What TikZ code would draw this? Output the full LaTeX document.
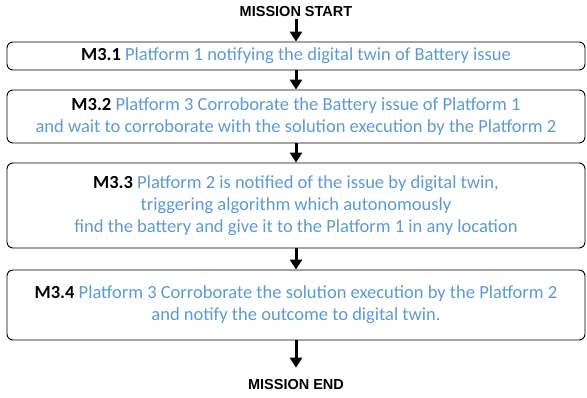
\documentclass[tikz,border=0pt]{standalone}
\usepackage{fontspec}
\setmainfont{Carlito}
\newfontfamily\headfont{Liberation Sans}
\usetikzlibrary{arrows.meta}
\definecolor{txtblue}{HTML}{5B9BD5}
\begin{document}
\begin{tikzpicture}[x=1pt,y=-1pt,
  stepbox/.style={draw=black,line width=0.9pt,rounded corners=6pt,minimum width=578pt,
    align=center,inner sep=0pt,font=\fontsize{18.5}{22}\selectfont,text=txtblue},
  head/.style={font=\headfont\bfseries\fontsize{14.5}{15}\selectfont,inner sep=0pt},
  arr/.style={line width=3pt,-{Triangle[width=12pt,length=10pt]}}]
\useasboundingbox (0,0) rectangle (587,397);
\node[head] (start) at (296,12) {MISSION START};
\node[stepbox,minimum height=28pt] (b1) at (296,56)
  {\textcolor{black}{\textbf{M3.1}} Platform 1 notifying the digital twin of Battery issue};
\node[stepbox,minimum height=53pt] (b2) at (296,116.5)
  {\textcolor{black}{\textbf{M3.2}} Platform 3 Corroborate the Battery issue of Platform 1\\
   and wait to corroborate with the solution execution by the Platform 2};
\node[stepbox,minimum height=85pt] (b3) at (296,205.5)
  {\textcolor{black}{\textbf{M3.3}} Platform 2 is notified of the issue by digital twin,\\
   triggering algorithm which autonomously\\
   find the battery and give it to the Platform 1 in any location};
\node[stepbox,minimum height=70pt] (b4) at (296,305)
  {\textcolor{black}{\textbf{M3.4}} Platform 3 Corroborate the solution execution by the Platform 2\\
   and notify the outcome to digital twin.};
\node[head] (end) at (296,385) {MISSION END};
\draw[arr] (start.south) ++(0,2) -- (b1.north);
\draw[arr] (b1) -- (b2);
\draw[arr] (b2) -- (b3);
\draw[arr] (b3) -- (b4);
\draw[arr,shorten >=12pt] (b4) -- (end);
\end{tikzpicture}
\end{document}
